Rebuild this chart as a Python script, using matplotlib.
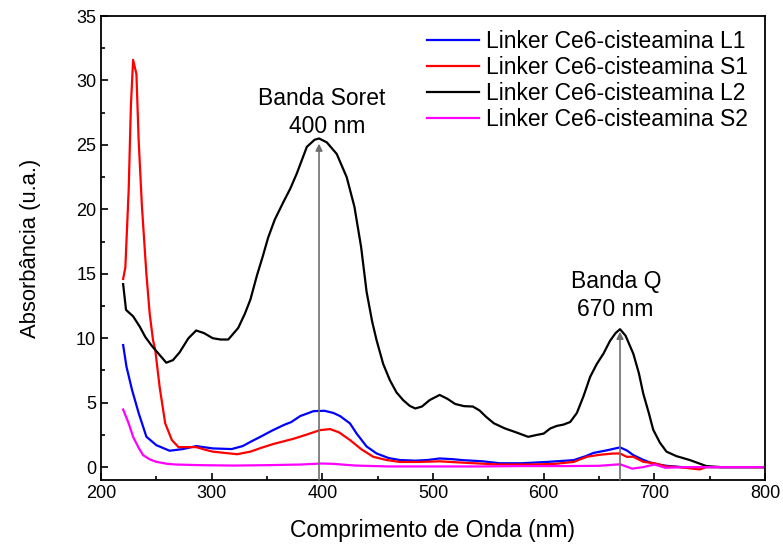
import matplotlib
matplotlib.use('Agg')
import matplotlib.pyplot as plt
from matplotlib.ticker import MultipleLocator

plt.rcParams['font.family'] = ['Liberation Sans', 'DejaVu Sans']

# Linker Ce6-cisteamina L1 (blue)
nm_l1 = [220, 223, 228, 234, 241, 250, 262, 274, 286, 301, 318, 328, 336, 344, 355, 365,
         372, 380, 392, 402, 410, 416, 425, 431, 440, 449, 460, 470, 484, 495, 506, 517,
         527, 545, 560, 580, 603, 627, 638, 645, 657, 669, 675, 681, 689, 696, 704, 711,
         725, 750, 800]
abs_l1 = [9.47, 7.8, 6.0, 4.2, 2.36, 1.7, 1.27, 1.4, 1.63, 1.45, 1.4, 1.63, 2.0, 2.35, 2.85, 3.26,
          3.5, 3.96, 4.34, 4.37, 4.2, 3.96, 3.39, 2.6, 1.6, 1.06, 0.7, 0.55, 0.5, 0.55, 0.67, 0.62,
          0.54, 0.45, 0.3, 0.3, 0.4, 0.54, 0.85, 1.1, 1.3, 1.53, 1.3, 0.93, 0.6, 0.36, 0.2, 0.1,
          0.0, 0.0, 0.0]

# Linker Ce6-cisteamina S1 (red)
nm_s1 = [220, 222, 225, 227, 229, 232, 234, 237, 241, 244, 247, 249, 253, 258, 264, 270,
         278, 286, 294, 301, 312, 323, 335, 345, 356, 365, 374, 385, 398, 407, 415, 425,
         435, 446, 458, 470, 488, 506, 530, 560, 590, 610, 627, 639, 650, 662, 669, 675,
         681, 690, 700, 711, 720, 741, 747, 770, 800]
abs_s1 = [14.6, 15.5, 21.5, 28.0, 31.6, 30.5, 25.4, 20.2, 15.0, 11.9, 9.85, 9.1, 6.2, 3.4, 2.1, 1.55,
          1.55, 1.55, 1.35, 1.2, 1.1, 1.0, 1.2, 1.5, 1.8, 2.0, 2.2, 2.5, 2.87, 2.95, 2.7, 2.1,
          1.4, 0.8, 0.55, 0.4, 0.4, 0.45, 0.33, 0.2, 0.2, 0.25, 0.4, 0.8, 0.95, 1.05, 1.06, 0.8,
          0.8, 0.41, 0.3, 0.05, 0.02, -0.18, 0.0, 0.0, 0.0]

# Linker Ce6-cisteamina L2 (black)
nm_l2 = [220, 222.6, 229, 235, 240, 246, 252, 259, 265, 271, 279, 286, 293, 301, 308, 315,
         324, 330, 335, 341, 346, 351, 357, 365, 371, 377, 386, 393, 397, 404, 413, 422,
         429, 435, 440, 445, 449, 455, 461, 467, 473, 479, 484, 490, 497, 506, 513, 520,
         528, 536, 542, 548, 555, 565, 575, 586, 594, 600, 606, 612, 618, 624, 630, 636,
         642, 648, 654, 660, 665, 669, 674, 681, 686, 690, 695, 699, 705, 711, 720, 732,
         740, 747, 760, 780, 800]
abs_l2 = [14.2, 12.2, 11.7, 10.9, 10.1, 9.4, 8.8, 8.1, 8.3, 8.9, 10.0, 10.6, 10.4, 10.0, 9.9, 9.9,
          10.8, 11.9, 13.0, 14.9, 16.3, 17.8, 19.2, 20.6, 21.6, 22.8, 24.85, 25.4, 25.5, 25.2, 24.3, 22.5,
          20.2, 17.1, 13.6, 11.3, 9.85, 8.0, 6.75, 5.8, 5.2, 4.75, 4.55, 4.7, 5.2, 5.6, 5.3, 4.9,
          4.73, 4.7, 4.4, 3.9, 3.4, 3.0, 2.7, 2.35, 2.5, 2.6, 3.0, 3.2, 3.3, 3.5, 4.2, 5.5,
          7.0, 8.0, 8.8, 9.8, 10.4, 10.7, 10.2, 8.8, 7.3, 5.7, 4.2, 2.9, 1.9, 1.2, 0.85, 0.55,
          0.3, 0.08, 0.0, 0.0, 0.0]

# Linker Ce6-cisteamina S2 (magenta)
nm_s2 = [220, 225, 229, 234, 238, 244, 250, 260, 268, 290, 320, 350, 380, 400, 410, 430,
         460, 500, 540, 580, 620, 650, 669, 680, 690, 700, 710, 730, 750, 800]
abs_s2 = [4.47, 3.39, 2.35, 1.5, 0.93, 0.6, 0.41, 0.25, 0.2, 0.15, 0.12, 0.15, 0.2, 0.28, 0.25, 0.12,
          0.05, 0.05, 0.05, 0.08, 0.08, 0.1, 0.22, -0.12, 0.0, 0.2, -0.05, 0.0, 0.0, 0.0]

soret_nm, soret_abs = 397, 25.1
q_nm, q_abs = 669, 10.5

fig = plt.figure(figsize=(7.83, 5.47), dpi=100)
ax = fig.add_axes([0.129, 0.1225, 0.848, 0.8482])

lw = 1.6
ax.plot(nm_l1, abs_l1, color='#0000ff', lw=lw, label='Linker Ce6-cisteamina L1')
ax.plot(nm_s1, abs_s1, color='#ff0000', lw=lw, label='Linker Ce6-cisteamina S1')
ax.plot(nm_l2, abs_l2, color='black', lw=lw, label='Linker Ce6-cisteamina L2')
ax.plot(nm_s2, abs_s2, color='#ff00ff', lw=lw, label='Linker Ce6-cisteamina S2')

# arrows marking the bands
for xa, ya in [(soret_nm, soret_abs), (q_nm, q_abs)]:
    ax.annotate('', xy=(xa, ya), xytext=(xa, -1),
                arrowprops=dict(arrowstyle='-|>', color='#6e6e6e', lw=1.2,
                                mutation_scale=10, shrinkA=0, shrinkB=0))

fs = 16.5
ax.text(399.4, 28.6, 'Banda Soret', ha='center', va='center', fontsize=fs)
ax.text(404.8, 26.45, '400 nm', ha='center', va='center', fontsize=fs)
ax.text(665.8, 14.4, 'Banda Q', ha='center', va='center', fontsize=fs)
ax.text(664.3, 12.2, '670 nm', ha='center', va='center', fontsize=fs)

ax.set_xlim(200, 800)
ax.set_ylim(-1, 35)
ax.xaxis.set_major_locator(MultipleLocator(100))
ax.xaxis.set_minor_locator(MultipleLocator(50))
ax.yaxis.set_major_locator(MultipleLocator(5))
ax.yaxis.set_minor_locator(MultipleLocator(2.5))
ax.tick_params(which='both', direction='in', top=False, right=False, labelsize=13, width=1.2)
ax.tick_params(which='major', length=5)
ax.tick_params(which='minor', length=3)
for s in ax.spines.values():
    s.set_linewidth(1.3)

ax.set_xlabel('Comprimento de Onda (nm)', fontsize=fs, labelpad=12)
ax.set_ylabel('Absorbância (u.a.)', fontsize=15.8, labelpad=25)

ax.legend(loc='upper right', bbox_to_anchor=(0.995, 1.0), frameon=False, fontsize=fs,
          handlelength=2.27, handletextpad=0.3, labelspacing=0.14,
          borderaxespad=0.2, borderpad=0.4)

fig.savefig('out.png', dpi=100)
